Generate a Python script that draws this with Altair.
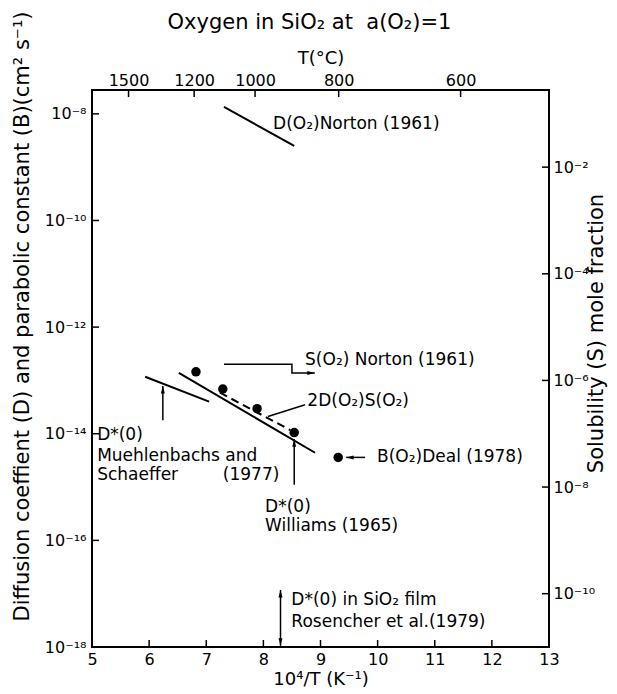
import altair as alt
import pandas as pd

FONT = "DejaVu Sans"
W, H = 457, 557

# ---------------- axis data ----------------
x_ticks = [5, 6, 7, 8, 9, 10, 11, 12, 13]
temps_c = [1500, 1200, 1000, 800, 600]
d_exps = [-8, -10, -12, -14, -16, -18]
d_labels = ["10⁻⁸", "10⁻¹⁰", "10⁻¹²", "10⁻¹⁴", "10⁻¹⁶", "10⁻¹⁸"]
s_exps = [-2, -4, -6, -8, -10]
s_labels = ["10⁻²", "10⁻⁴", "10⁻⁶", "10⁻⁸", "10⁻¹⁰"]

# ---------------- series data ----------------
line_names = ["Norton D", "Muehlenbachs", "Williams"]
line_x = [[7.31, 8.54], [5.93, 7.05], [6.52, 8.905]]
line_y = [[1.35e-8, 2.5e-9], [1.17e-13, 4.0e-14], [1.38e-13, 4.4e-15]]

dashed_x = [7.24, 8.47]
dashed_y = [5.9e-14, 1.17e-14]

deal_x = [6.82, 7.29, 7.89, 8.54, 9.31]
deal_y = [1.45e-13, 6.9e-14, 2.95e-14, 1.05e-14, 3.6e-15]

snorton_x = [7.31, 8.50, 8.50, 8.90]
snorton_s = [2.0e-6, 2.0e-6, 1.38e-6, 1.38e-6]

# arrows / leader lines (from -> to)
arrow_x1 = [6.24, 8.54, 9.78, 8.30, 8.08]
arrow_y1 = [1.8e-14, 1.1e-15, 3.6e-15, 1.05e-18, 2.1e-14]
arrow_x2 = [6.24, 8.54, 9.45, 8.30, 8.73]
arrow_y2 = [7.9e-14, 7.9e-15, 3.6e-15, 1.17e-17, 3.5e-14]

head_x = [6.24, 8.54, 9.45, 8.30, 8.30]
head_y = [7.9e-14, 7.9e-15, 3.6e-15, 1.17e-17, 1.05e-18]
head_angle = [0, 0, 270, 0, 180]

label_text = ["D(O₂)Norton (1961)", "S(O₂) Norton (1961)", "2D(O₂)S(O₂)",
              "B(O₂)Deal (1978)", "D*(0)", "Muehlenbachs and", "Schaeffer",
              "(1977)", "D*(0)", "Williams (1965)", "D*(0) in SiO₂ film",
              "Rosencher et al.(1979)"]
label_x = [8.17, 8.73, 8.77, 9.99, 5.09, 5.09, 5.09, 7.29, 8.03, 8.03, 8.49, 8.49]
label_y = [10**-8.19, 10**-12.62, 10**-13.38, 10**-14.44, 10**-14.02, 10**-14.42,
           10**-14.77, 10**-14.77, 10**-15.37, 10**-15.73, 10**-17.12, 10**-17.53]

# ---------------- frames ----------------
lines_df = pd.DataFrame([
    {"series": n, "x": xv, "y": yv}
    for n, xs_, ys_ in zip(line_names, line_x, line_y)
    for xv, yv in zip(xs_, ys_)
])
dashed_df = pd.DataFrame({"x": dashed_x, "y": dashed_y})
deal_df = pd.DataFrame({"x": deal_x, "y": deal_y})
snorton_df = pd.DataFrame({"x": snorton_x, "s": snorton_s, "order": list(range(len(snorton_x)))})
arrows_df = pd.DataFrame({"x": arrow_x1, "y": arrow_y1, "x2": arrow_x2, "y2": arrow_y2})
heads_df = pd.DataFrame({"x": head_x, "y": head_y, "angle": head_angle})
sh_df = pd.DataFrame({"x": [snorton_x[-1]], "s": [snorton_s[-1]], "angle": [90]})
labels_df = pd.DataFrame({"text": label_text, "x": label_x, "y": label_y})
xt_df = pd.DataFrame({"x": x_ticks[1:-1]})
tt_df = pd.DataFrame({"x": [1e4 / (t + 273.15) for t in temps_c]})
lt_df = pd.DataFrame({"y": [10.0 ** e for e in d_exps[:-1]]})
rt_df = pd.DataFrame({"s": [10.0 ** e for e in s_exps]})

# ---------------- scales / axes ----------------
xs = alt.Scale(domain=[5, 13], nice=False, zero=False)
ysD = alt.Scale(type="log", domain=[1e-18, 2.8e-8], nice=False)
ysS = alt.Scale(type="log", domain=[1e-11, 2.8e-1], nice=False)


def sup_expr(exps, labs):
    parts = [f"round(log(datum.value)/LN10) == {e} ? '{l}'" for e, l in zip(exps, labs)]
    return " : ".join(parts) + " : ''"


common = dict(grid=False, domain=False, ticks=False, labelFont=FONT, titleFont=FONT,
              labelFontSize=16, titleFontWeight="normal",
              labelColor="black", titleColor="black", labelOverlap=False)

x_bottom = alt.Axis(orient="bottom", values=x_ticks, format="d", title="10⁴/T (K⁻¹)",
                    titleFontSize=18, labelPadding=4, titlePadding=3, labelFlush=False, **common)
x_top = alt.Axis(orient="top", values=[1e4 / (t + 273.15) for t in temps_c],
                 labelExpr="format(round(10000/datum.value - 273.15), 'd')",
                 title="T(°C)", titleFontSize=18, labelPadding=2, titlePadding=5,
                 labelFlush=False, **common)
y_left = alt.Axis(orient="left", values=[10.0 ** e for e in d_exps], labelExpr=sup_expr(d_exps, d_labels),
                  title="Diffusion coeffient (D) and parabolic constant (B)(cm² s⁻¹)",
                  titleFontSize=21, labelPadding=6, titleAngle=270, titleX=-70, titleY=226,
                  titleAlign="center", titleBaseline="middle", **common)
y_right = alt.Axis(orient="right", values=[10.0 ** e for e in s_exps], labelExpr=sup_expr(s_exps, s_labels),
                   title="Solubility (S) mole fraction",
                   titleFontSize=21, labelPadding=4, titleAngle=270, titleX=47, titleY=243,
                   titleAlign="center", titleBaseline="middle", **common)

ARROW = "M0,0L0.4,1.5L-0.4,1.5Z"

# ---------------- D layers ----------------
solid = alt.Chart(lines_df).mark_line(color="black", strokeWidth=2).encode(
    x=alt.X("x:Q", scale=xs, axis=x_bottom),
    y=alt.Y("y:Q", scale=ysD, axis=y_left),
    detail="series:N",
)
dashed = alt.Chart(dashed_df).mark_line(color="black", strokeWidth=2, strokeDash=[8, 5]).encode(
    x=alt.X("x:Q", scale=xs, axis=None), y=alt.Y("y:Q", scale=ysD, axis=None))
dots = alt.Chart(deal_df).mark_circle(color="black", size=90, opacity=1).encode(
    x=alt.X("x:Q", scale=xs, axis=None), y=alt.Y("y:Q", scale=ysD, axis=None))
arrows = alt.Chart(arrows_df).mark_rule(color="black", strokeWidth=1.5).encode(
    x=alt.X("x:Q", scale=xs, axis=None), y=alt.Y("y:Q", scale=ysD, axis=None),
    x2="x2:Q", y2="y2:Q")
heads = alt.Chart(heads_df).mark_point(shape=ARROW, filled=True, color="black", size=100, opacity=1).encode(
    x=alt.X("x:Q", scale=xs, axis=None), y=alt.Y("y:Q", scale=ysD, axis=None),
    angle=alt.Angle("angle:Q", scale=None))
texts = alt.Chart(labels_df).mark_text(align="left", baseline="middle", font=FONT, fontSize=17, color="black").encode(
    x=alt.X("x:Q", scale=xs, axis=None), y=alt.Y("y:Q", scale=ysD, axis=None), text="text:N")
lticks = alt.Chart(lt_df).mark_tick(color="black", orient="horizontal", size=7, thickness=1.5, opacity=1).encode(
    y=alt.Y("y:Q", scale=ysD, axis=None), x=alt.value(3.5))
bticks = alt.Chart(xt_df).mark_tick(color="black", orient="vertical", size=7, thickness=1.5, opacity=1).encode(
    x=alt.X("x:Q", scale=xs, axis=None), y=alt.value(H - 3.5))

# ---------------- S layers ----------------
sline = alt.Chart(snorton_df).mark_line(color="black", strokeWidth=1.5).encode(
    x=alt.X("x:Q", scale=xs, axis=x_top),
    y=alt.Y("s:Q", scale=ysS, axis=y_right),
    order="order:Q",
)
shead = alt.Chart(sh_df).mark_point(shape=ARROW, filled=True, color="black", size=100, opacity=1).encode(
    x=alt.X("x:Q", scale=xs, axis=None), y=alt.Y("s:Q", scale=ysS, axis=None),
    angle=alt.Angle("angle:Q", scale=None))
rticks = alt.Chart(rt_df).mark_tick(color="black", orient="horizontal", size=7, thickness=1.5, opacity=1).encode(
    y=alt.Y("s:Q", scale=ysS, axis=None), x=alt.value(W - 3.5))
tticks = alt.Chart(tt_df).mark_tick(color="black", orient="vertical", size=7, thickness=1.5, opacity=1).encode(
    x=alt.X("x:Q", scale=xs, axis=None), y=alt.value(3.5))

chart = (
    alt.layer(solid, dashed, dots, arrows, heads, texts, lticks, bticks,
              sline, shead, rticks, tticks)
    .resolve_scale(y="independent")
    .resolve_axis(x="independent", y="independent")
    .properties(
        width=W, height=H,
        background="white",
        autosize=alt.AutoSizeParams(type="none"),
        padding={"left": 92, "top": 90, "right": 68, "bottom": 47},
        title=alt.TitleParams("Oxygen in SiO₂ at\u00a0 a(O₂)=1", font=FONT, fontSize=21,
                              fontWeight="normal", color="black", anchor="middle",
                              offset=3, dy=25, dx=-11),
    )
    .configure_view(stroke="black", strokeWidth=2)
)

chart.save("out.html", embed_options={"renderer": "svg", "actions": False})
